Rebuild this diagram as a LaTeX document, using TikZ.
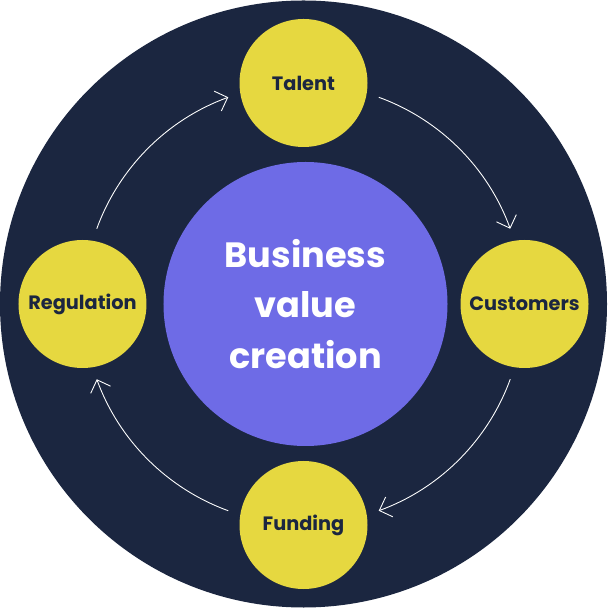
\documentclass[tikz,border=0pt]{standalone}
\usepackage{fontspec}
\setsansfont{Poppins}
\usetikzlibrary{arrows.meta}
\definecolor{navy}{HTML}{1B2640}
\definecolor{sun}{HTML}{E6D840}
\definecolor{violet}{HTML}{6E6BE6}
\tikzset{
  stage/.style={circle, fill=sun, minimum size=2.56cm, inner sep=0pt,
    font=\sffamily\bfseries\fontsize{11}{13}\selectfont, text=navy},
  flow/.style={white, line width=0.5pt, -{Straight Barb[length=6pt,width=12pt]}}
}
\begin{document}
\begin{tikzpicture}
            \useasboundingbox (-6.07,-6.08) rectangle (6.07,6.08);
            \fill[navy] (0,0) circle (6.07);
            % core
            \node[circle, fill=violet, minimum size=5.68cm, inner sep=0pt, align=center,
              font=\sffamily\bfseries\fontsize{20}{28.5}\selectfont, text=white] (core) at (0.04,0)
              {Business\\value\\creation};

            % stages
            \node[stage] (talent) at (90:4.42) {Talent};
            \node[stage] (customers) at (0:4.42) {Customers};
            \node[stage] (funding) at (-90:4.42) {Funding};
            \node[stage] (regulation) at (180:4.42) {Regulation};

            % flow arcs
            \coordinate (t1) at (70:4.4);
            \coordinate (c1) at (-20:4.4);
            \coordinate (f1) at (-110:4.4);
            \coordinate (r1) at (160:4.4);
            \draw[flow] (t1) arc (70:20:4.4);
            \draw[flow] (c1) arc (-20:-70:4.4);
            \draw[flow] (f1) arc (-110:-160:4.4);
            \draw[flow] (r1) arc (160:110:4.4);
\end{tikzpicture}
\end{document}
